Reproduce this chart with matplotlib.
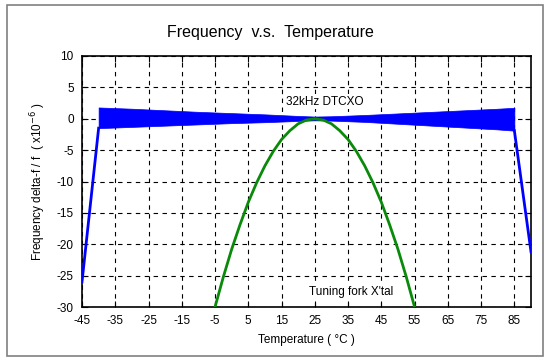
import numpy as np
import matplotlib.pyplot as plt
from matplotlib.patches import Rectangle

plt.rcParams['font.family'] = ['Liberation Sans', 'DejaVu Sans']
plt.rcParams['axes.unicode_minus'] = False

# DTCXO: ramps at both ends and the noisy band in between (upper / lower envelope)
ramp_l_t = [-45, -40]
ramp_l_v = [-26.0, -1.5]
ramp_r_t = [85, 90]
ramp_r_v = [-1.9, -21.2]

band_t = [-40, -30, -20, -10, 0, 10, 20, 25, 30, 40, 50, 60, 70, 80, 85]
band_hi = [1.8, 1.6, 1.35, 1.1, 0.9, 0.7, 0.45, 0.35, 0.4, 0.6, 0.85, 1.1, 1.35, 1.6, 1.75]
band_lo = [-1.5, -1.3, -1.1, -0.9, -0.7, -0.55, -0.35, -0.25, -0.3, -0.5, -0.8, -1.1, -1.4, -1.7, -1.9]

# tuning fork crystal
fork_t = [-5, -2.5, 0, 2.5, 5, 7.5, 10, 12.5, 15, 17.5, 20, 22.5, 25,
          27.5, 30, 32.5, 35, 37.5, 40, 42.5, 45, 47.5, 50, 52.5, 55]
fork_v = [-30.0, -25.2, -20.8, -16.9, -13.3, -10.2, -7.5, -5.2, -3.3, -1.9, -0.8, -0.2, 0.0,
          -0.2, -0.8, -1.9, -3.3, -5.2, -7.5, -10.2, -13.3, -16.9, -20.8, -25.2, -30.0]

x_ticks = [-45, -35, -25, -15, -5, 5, 15, 25, 35, 45, 55, 65, 75, 85]
y_ticks = [-30, -25, -20, -15, -10, -5, 0, 5, 10]

fig = plt.figure(figsize=(5.53, 3.63), dpi=100)
fig.patches.append(Rectangle((7 / 553, 1 - 356 / 363), 536 / 553, 351 / 363,
                             transform=fig.transFigure, fill=False,
                             edgecolor='#808080', lw=1.2))
ax = fig.add_axes([82 / 553, 1 - 307 / 363, 449 / 553, 251 / 363])

blue = '#0000ff'
ax.fill_between(band_t, band_lo, band_hi, color=blue, lw=0.5, zorder=3)
ax.plot(ramp_l_t, ramp_l_v, color=blue, lw=2, zorder=3)
ax.plot(ramp_r_t, ramp_r_v, color=blue, lw=2, zorder=3)
ax.plot(fork_t, fork_v, color='#0a8a0a', lw=2, zorder=4)

ax.set_xlim(-45, 90)
ax.set_ylim(-30, 10)
ax.set_xticks(x_ticks)
ax.set_yticks(y_ticks)
ax.grid(True, color='black', ls=(0, (4, 4)), lw=0.8)
ax.tick_params(direction='in', top=True, right=True, length=4, width=0.8,
               labelsize=8.5, pad=6)
for s in ax.spines.values():
    s.set_linewidth(1.2)

box = dict(facecolor='white', edgecolor='none', pad=1)
ax.text(28, 2.7, '32kHz DTCXO', fontsize=8.5, ha='center', va='center', zorder=5, bbox=box)
ax.text(36, -27.6, "Tuning fork X'tal", fontsize=8.5, ha='center', va='center', zorder=5, bbox=box)

ax.set_xlabel('Temperature ( \u00b0C )', fontsize=8.5, labelpad=5)
ax.set_ylabel('Frequency delta-f / f  ( x10$^{-6}$ )', fontsize=8.5, labelpad=6)
fig.text(270 / 553, 1 - 33 / 363, 'Frequency  v.s.  Temperature', fontsize=11.5,
         ha='center', va='center')

fig.savefig('out.png', dpi=100)
